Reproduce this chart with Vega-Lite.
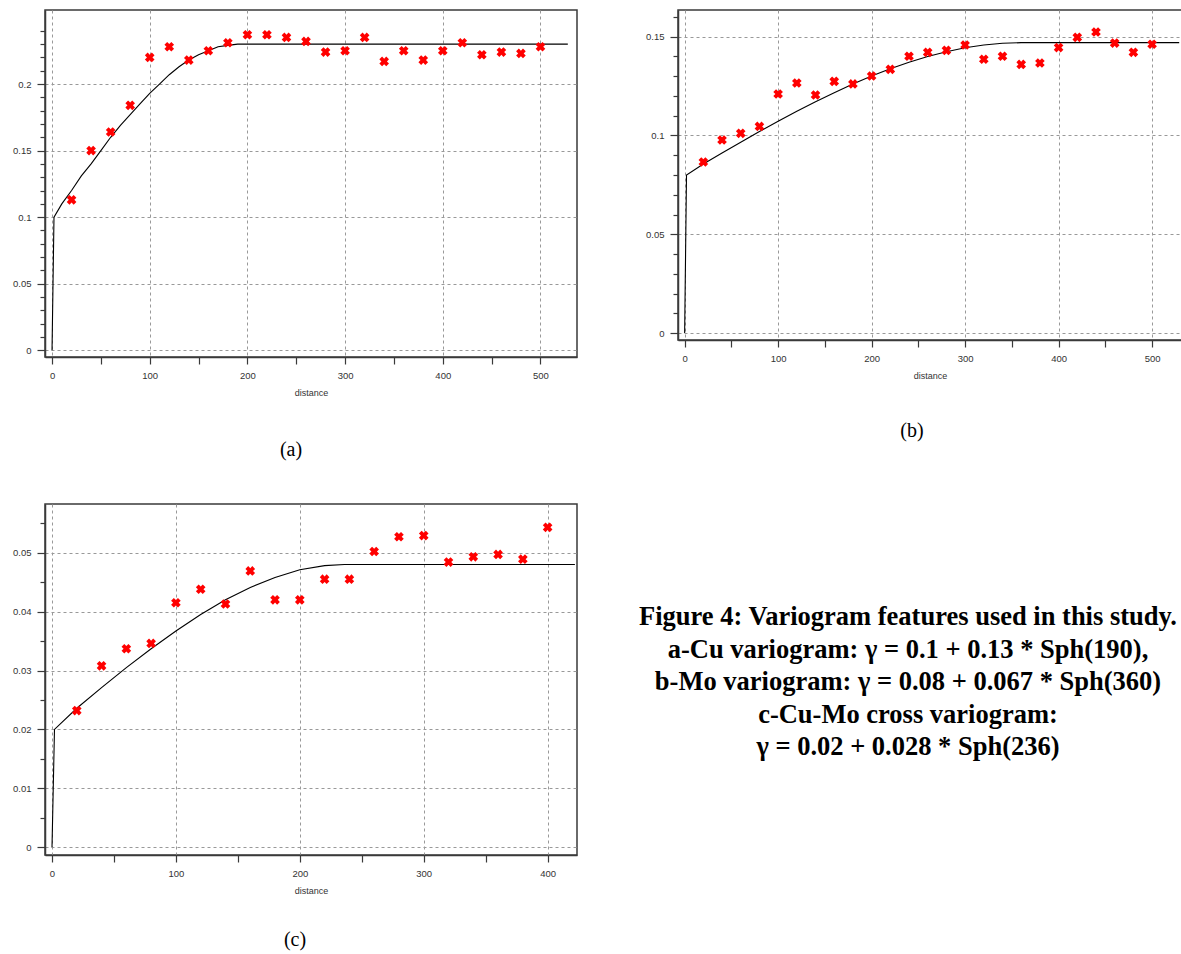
{
  "$schema": "https://vega.github.io/schema/vega-lite/v6.json",
  "background": "white",
  "padding": {"left": 11, "top": 9, "right": 0, "bottom": 0},
  "autosize": {"type": "pad"},
  "columns": 2,
  "spacing": {"row": 143, "column": 101},
  "bounds": "flush",
  "align": "all",
  "config": {
    "view": {"stroke": "#3a3a3a", "strokeWidth": 1.5},
    "axis": {
      "labelFont": "Liberation Sans", "labelFontSize": 9.5, "labelColor": "#333333", "labelOverlap": false,
      "titleFont": "Liberation Sans", "titleFontSize": 9, "titleFontWeight": "normal", "titleColor": "#333333",
      "domainColor": "#3a3a3a", "domainWidth": 1.5, "tickColor": "#3a3a3a", "tickWidth": 1.2,
      "gridColor": "#999999", "gridDash": [3, 3], "gridWidth": 1
    },
    "title": {"font": "Liberation Serif", "fontSize": 20, "fontWeight": "normal", "color": "black", "orient": "bottom", "anchor": "middle"}
  },
  "datasets": {
    "a_pts": [
      {"d": 20, "g": 0.113}, {"d": 40, "g": 0.150}, {"d": 60, "g": 0.164}, {"d": 80, "g": 0.184}, {"d": 100, "g": 0.220},
      {"d": 120, "g": 0.228}, {"d": 140, "g": 0.218}, {"d": 160, "g": 0.225}, {"d": 180, "g": 0.231}, {"d": 200, "g": 0.237},
      {"d": 220, "g": 0.237}, {"d": 240, "g": 0.235}, {"d": 260, "g": 0.232}, {"d": 280, "g": 0.224}, {"d": 300, "g": 0.225},
      {"d": 320, "g": 0.235}, {"d": 340, "g": 0.217}, {"d": 360, "g": 0.225}, {"d": 380, "g": 0.218}, {"d": 400, "g": 0.225},
      {"d": 420, "g": 0.231}, {"d": 440, "g": 0.222}, {"d": 460, "g": 0.224}, {"d": 480, "g": 0.223}, {"d": 500, "g": 0.228}
    ],
    "a_fit": [
      {"d": 0, "g": 0}, {"d": 2, "g": 0.1}, {"d": 10, "g": 0.110}, {"d": 20, "g": 0.120}, {"d": 30, "g": 0.131},
      {"d": 40, "g": 0.140}, {"d": 50, "g": 0.150}, {"d": 60, "g": 0.160}, {"d": 70, "g": 0.169}, {"d": 80, "g": 0.177},
      {"d": 90, "g": 0.185}, {"d": 100, "g": 0.193}, {"d": 110, "g": 0.200}, {"d": 120, "g": 0.207}, {"d": 130, "g": 0.213},
      {"d": 140, "g": 0.218}, {"d": 150, "g": 0.222}, {"d": 160, "g": 0.225}, {"d": 170, "g": 0.228}, {"d": 180, "g": 0.229},
      {"d": 190, "g": 0.230}, {"d": 528, "g": 0.230}
    ],
    "b_pts": [
      {"d": 20, "g": 0.0866}, {"d": 40, "g": 0.0977}, {"d": 60, "g": 0.1011}, {"d": 80, "g": 0.1046}, {"d": 100, "g": 0.1210},
      {"d": 120, "g": 0.1266}, {"d": 140, "g": 0.1205}, {"d": 160, "g": 0.1274}, {"d": 180, "g": 0.1261}, {"d": 200, "g": 0.1301},
      {"d": 220, "g": 0.1335}, {"d": 240, "g": 0.1401}, {"d": 260, "g": 0.1421}, {"d": 280, "g": 0.1431}, {"d": 300, "g": 0.1458},
      {"d": 320, "g": 0.1386}, {"d": 340, "g": 0.1401}, {"d": 360, "g": 0.1360}, {"d": 380, "g": 0.1367}, {"d": 400, "g": 0.1445},
      {"d": 420, "g": 0.1497}, {"d": 440, "g": 0.1524}, {"d": 460, "g": 0.1468}, {"d": 480, "g": 0.1421}, {"d": 500, "g": 0.1462}
    ],
    "b_fit": [
      {"d": 0, "g": 0}, {"d": 2, "g": 0.08}, {"d": 20, "g": 0.0856}, {"d": 40, "g": 0.0911}, {"d": 60, "g": 0.0966},
      {"d": 80, "g": 0.1020}, {"d": 100, "g": 0.1072}, {"d": 120, "g": 0.1123}, {"d": 140, "g": 0.1171}, {"d": 160, "g": 0.1217},
      {"d": 180, "g": 0.1261}, {"d": 200, "g": 0.1301}, {"d": 220, "g": 0.1338}, {"d": 240, "g": 0.1371}, {"d": 260, "g": 0.1400},
      {"d": 280, "g": 0.1424}, {"d": 300, "g": 0.1444}, {"d": 320, "g": 0.1458}, {"d": 340, "g": 0.1467}, {"d": 360, "g": 0.147},
      {"d": 529, "g": 0.147}
    ],
    "c_pts": [
      {"d": 20, "g": 0.0232}, {"d": 40, "g": 0.0308}, {"d": 60, "g": 0.0337}, {"d": 80, "g": 0.0346}, {"d": 100, "g": 0.0415},
      {"d": 120, "g": 0.0438}, {"d": 140, "g": 0.0413}, {"d": 160, "g": 0.0469}, {"d": 180, "g": 0.0420}, {"d": 200, "g": 0.0420},
      {"d": 220, "g": 0.0455}, {"d": 240, "g": 0.0455}, {"d": 260, "g": 0.0502}, {"d": 280, "g": 0.0527}, {"d": 300, "g": 0.0529},
      {"d": 320, "g": 0.0484}, {"d": 340, "g": 0.0493}, {"d": 360, "g": 0.0497}, {"d": 380, "g": 0.0489}, {"d": 400, "g": 0.0543}
    ],
    "c_fit": [
      {"d": 0, "g": 0}, {"d": 2, "g": 0.02}, {"d": 20, "g": 0.0236}, {"d": 40, "g": 0.0271}, {"d": 60, "g": 0.0305},
      {"d": 80, "g": 0.0337}, {"d": 100, "g": 0.0367}, {"d": 120, "g": 0.0395}, {"d": 140, "g": 0.0420}, {"d": 160, "g": 0.0441},
      {"d": 180, "g": 0.0458}, {"d": 200, "g": 0.0471}, {"d": 220, "g": 0.0478}, {"d": 236, "g": 0.048}, {"d": 422, "g": 0.048}
    ],
    "caption": [
      {"line": 1, "text": "Figure 4: Variogram features used in this study."},
      {"line": 2, "text": "a-Cu variogram: γ = 0.1 + 0.13 * Sph(190),"},
      {"line": 3, "text": "b-Mo variogram: γ = 0.08 + 0.067 * Sph(360)"},
      {"line": 4, "text": "c-Cu-Mo cross variogram:"},
      {"line": 5, "text": "γ = 0.02 + 0.028 * Sph(236)"}
    ]
  },
  "concat": [
    {
      "width": 532, "height": 347,
      "title": {"text": "(a)", "offset": 42, "dx": -20},
      "layer": [
        {
          "data": {"name": "a_fit"},
          "mark": {"type": "line", "color": "black", "strokeWidth": 1.1},
          "encoding": {
            "x": {"field": "d", "type": "quantitative", "scale": {"domain": [-7.2, 537.4], "nice": false, "zero": false},
              "axis": {"title": "distance", "values": [0, 50, 100, 150, 200, 250, 300, 350, 400, 450, 500], "format": "d", "tickCount": 100, "labelOverlap": false,
                "labelExpr": "datum.value % 100 == 0 ? datum.label : ''",
                "gridOpacity": {"condition": {"test": "datum.value % 100 == 0", "value": 1}, "value": 0},
                "tickSize": 7, "labelPadding": 6, "titlePadding": 9}},
            "y": {"field": "g", "type": "quantitative", "scale": {"domain": [-0.00503, 0.2556], "nice": false, "zero": false},
              "axis": {"title": null, "values": [0, 0.01, 0.02, 0.03, 0.04, 0.05, 0.06, 0.07, 0.08, 0.09, 0.1, 0.11, 0.12, 0.13, 0.14, 0.15, 0.16, 0.17, 0.18, 0.19, 0.2, 0.21, 0.22, 0.23, 0.24],
                "format": "~g", "tickCount": 100, "labelOverlap": false,
                "labelExpr": "abs(datum.value*20 - round(datum.value*20)) < 1e-6 ? datum.label : ''",
                "gridOpacity": {"condition": {"test": "abs(datum.value*20 - round(datum.value*20)) < 1e-6", "value": 1}, "value": 0},
                "tickSize": {"condition": {"test": "abs(datum.value*20 - round(datum.value*20)) < 1e-6", "value": 8}, "value": 5},
                "labelPadding": 6}}
          }
        },
        {
          "data": {"name": "a_pts"},
          "mark": {"type": "point", "shape": "cross", "angle": 45, "filled": true, "color": "#ff0000", "size": 95, "opacity": 1},
          "encoding": {
            "x": {"field": "d", "type": "quantitative"},
            "y": {"field": "g", "type": "quantitative"}
          }
        }
      ]
    },
    {
      "width": 504, "height": 330,
      "title": {"text": "(b)", "offset": 40, "dx": -18},
      "layer": [
        {
          "data": {"name": "b_fit"},
          "mark": {"type": "line", "color": "black", "strokeWidth": 1.1},
          "encoding": {
            "x": {"field": "d", "type": "quantitative", "scale": {"domain": [-7.1, 532], "nice": false, "zero": false},
              "axis": {"title": "distance", "values": [0, 50, 100, 150, 200, 250, 300, 350, 400, 450, 500], "format": "d", "tickCount": 100, "labelOverlap": false,
                "labelExpr": "datum.value % 100 == 0 ? datum.label : ''",
                "gridOpacity": {"condition": {"test": "datum.value % 100 == 0", "value": 1}, "value": 0},
                "tickSize": 7, "labelPadding": 6, "titlePadding": 9}},
            "y": {"field": "g", "type": "quantitative", "scale": {"domain": [-0.00354, 0.16354], "nice": false, "zero": false},
              "axis": {"title": null, "values": [0, 0.01, 0.02, 0.03, 0.04, 0.05, 0.06, 0.07, 0.08, 0.09, 0.1, 0.11, 0.12, 0.13, 0.14, 0.15, 0.16],
                "format": "~g", "tickCount": 100, "labelOverlap": false,
                "labelExpr": "abs(datum.value*20 - round(datum.value*20)) < 1e-6 ? datum.label : ''",
                "gridOpacity": {"condition": {"test": "abs(datum.value*20 - round(datum.value*20)) < 1e-6", "value": 1}, "value": 0},
                "tickSize": {"condition": {"test": "abs(datum.value*20 - round(datum.value*20)) < 1e-6", "value": 8}, "value": 5},
                "labelPadding": 6}}
          }
        },
        {
          "data": {"name": "b_pts"},
          "mark": {"type": "point", "shape": "cross", "angle": 45, "filled": true, "color": "#ff0000", "size": 95, "opacity": 1},
          "encoding": {
            "x": {"field": "d", "type": "quantitative"},
            "y": {"field": "g", "type": "quantitative"}
          }
        }
      ]
    },
    {
      "width": 532, "height": 351,
      "title": {"text": "(c)", "offset": 34, "dx": -16},
      "layer": [
        {
          "data": {"name": "c_fit"},
          "mark": {"type": "line", "color": "black", "strokeWidth": 1.1},
          "encoding": {
            "x": {"field": "d", "type": "quantitative", "scale": {"domain": [-5.65, 423.7], "nice": false, "zero": false},
              "axis": {"title": "distance", "values": [0, 50, 100, 150, 200, 250, 300, 350, 400], "format": "d", "tickCount": 100, "labelOverlap": false,
                "labelExpr": "datum.value % 100 == 0 ? datum.label : ''",
                "gridOpacity": {"condition": {"test": "datum.value % 100 == 0", "value": 1}, "value": 0},
                "tickSize": 7, "labelPadding": 6, "titlePadding": 9}},
            "y": {"field": "g", "type": "quantitative", "scale": {"domain": [-0.0013, 0.05826], "nice": false, "zero": false},
              "axis": {"title": null, "values": [0, 0.005, 0.01, 0.015, 0.02, 0.025, 0.03, 0.035, 0.04, 0.045, 0.05, 0.055],
                "format": "~g", "tickCount": 100, "labelOverlap": false,
                "labelExpr": "abs(datum.value*100 - round(datum.value*100)) < 1e-6 ? datum.label : ''",
                "gridOpacity": {"condition": {"test": "abs(datum.value*100 - round(datum.value*100)) < 1e-6", "value": 1}, "value": 0},
                "tickSize": {"condition": {"test": "abs(datum.value*100 - round(datum.value*100)) < 1e-6", "value": 8}, "value": 5},
                "labelPadding": 6}}
          }
        },
        {
          "data": {"name": "c_pts"},
          "mark": {"type": "point", "shape": "cross", "angle": 45, "filled": true, "color": "#ff0000", "size": 95, "opacity": 1},
          "encoding": {
            "x": {"field": "d", "type": "quantitative"},
            "y": {"field": "g", "type": "quantitative"}
          }
        }
      ]
    },
    {
      "width": 460, "height": 351,
      "view": {"stroke": null},
      "data": {"name": "caption"},
      "mark": {"type": "text", "font": "Liberation Serif", "fontWeight": "bold", "fontSize": 26.5, "color": "black", "align": "center", "baseline": "middle"},
      "encoding": {
        "y": {"field": "line", "type": "quantitative", "scale": {"domain": [-2.48, 8.32], "reverse": true, "nice": false, "zero": false}, "axis": null},
        "text": {"field": "text", "type": "nominal"}
      }
    }
  ]
}
